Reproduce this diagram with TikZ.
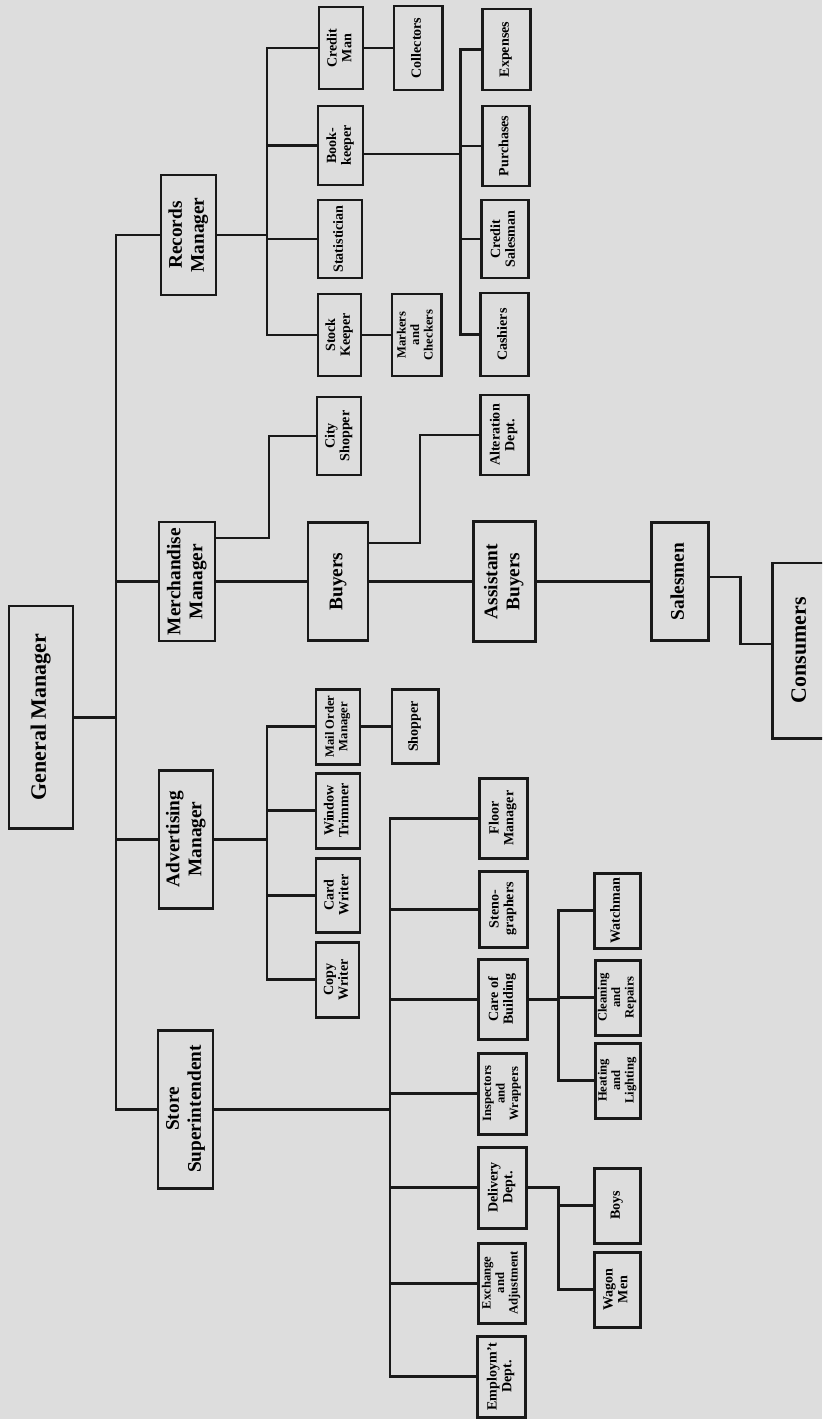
\documentclass[tikz,border=0pt]{standalone}
\usepackage{fontspec}
\setmainfont{Liberation Serif}
\usepackage{graphicx}
\definecolor{paper}{RGB}{221,221,221}
\definecolor{ink}{RGB}{25,25,25}
\newcommand{\vlab}[1]{\rotatebox{90}{\begin{tabular}{@{}c@{}}#1\end{tabular}}}
\tikzset{
  box/.style={draw=ink, fill=paper, line width=1.7pt, inner sep=0pt,
    font=\fontsize{8}{8.5}\selectfont\bfseries},
  tri/.style={box, font=\fontsize{7.2}{7.7}\selectfont\bfseries},
  big/.style={box, font=\fontsize{11}{12.5}\selectfont\bfseries},
  head/.style={box, font=\fontsize{12.5}{14}\selectfont\bfseries},
  sz/.style 2 args={minimum width=#1*0.02cm, minimum height=#2*0.02cm},
  link/.style={draw=ink, line width=1.7pt}
}
\begin{document}
\begin{tikzpicture}[x=0.02cm, y=-0.02cm]
\useasboundingbox (0,0) rectangle (822,1419);
\clip (0,0) rectangle (822,1419);
\fill[paper] (0,0) rectangle (822,1419);

\node[head, sz={64}{222}] (gm) at (41,717) {\vlab{General Manager}};
\node[big, sz={55}{120}] (rec) at (188.5,235) {\vlab{Records\\Manager}};
\node[big, sz={56}{119}] (mer) at (187,581.5) {\vlab{Merchandise\\Manager}};
\node[big, sz={54}{138}] (adv) at (186,839) {\vlab{Advertising\\Manager}};
\node[big, sz={55}{158}] (sup) at (185.5,1109) {\vlab{Store\\Superintendent}};

\node[box, sz={44}{82}] (credit) at (341,48) {\vlab{Credit\\Man}};
\node[box, sz={48}{84}] (collect) at (418,48) {\vlab{Collectors}};
\node[box, sz={45}{79}] (book) at (340.5,145.5) {\vlab{Book-\\keeper}};
\node[box, sz={44}{78}] (stat) at (340,239) {\vlab{Statistician}};
\node[box, sz={43}{82}] (stock) at (339.5,335) {\vlab{Stock\\Keeper}};
\node[tri, sz={49}{82}] (markers) at (416.5,335) {\vlab{Markers\\and\\Checkers}};
\node[box, sz={48}{81}] (expen) at (506,49.5) {\vlab{Expenses}};
\node[box, sz={47}{80}] (purch) at (505.5,146) {\vlab{Purchases}};
\node[box, sz={47}{78}] (csales) at (504.5,239) {\vlab{Credit\\Salesman}};
\node[box, sz={48}{83}] (cash) at (504,334.5) {\vlab{Cashiers}};

\node[box, sz={44}{78}] (city) at (339,436) {\vlab{City\\Shopper}};
\node[box, sz={48}{80}] (alter) at (504,435) {\vlab{Alteration\\Dept.}};
\node[big, sz={60}{118}] (buy) at (338,581.5) {\vlab{Buyers}};
\node[big, sz={62}{120}] (abuy) at (504,581.5) {\vlab{Assistant\\Buyers}};
\node[big, sz={57}{118}] (sales) at (679.5,581.5) {\vlab{Salesmen}};
\node[head, sz={58}{175}] (cons) at (801,650.5) {\vlab{Consumers}};

\node[tri, sz={44}{75}] (mail) at (338,726.5) {\vlab{Mail Order\\Manager}};
\node[box, sz={46}{74}] (shop) at (415,726.5) {\vlab{Shopper}};
\node[box, sz={44}{75}] (window) at (338,810.5) {\vlab{Window\\Trimmer}};
\node[box, sz={44}{74}] (card) at (338,895) {\vlab{Card\\Writer}};
\node[box, sz={43}{75}] (copy) at (337.5,979.5) {\vlab{Copy\\Writer}};

\node[box, sz={48}{80}] (floor) at (503,818) {\vlab{Floor\\Manager}};
\node[box, sz={48}{76}] (steno) at (503,909) {\vlab{Steno-\\graphers}};
\node[box, sz={49}{80}] (care) at (502.5,999) {\vlab{Care of\\Building}};
\node[tri, sz={48}{81}] (insp) at (502,1093.5) {\vlab{Inspectors\\and\\Wrappers}};
\node[box, sz={48}{81}] (deliv) at (502,1187.5) {\vlab{Delivery\\Dept.}};
\node[tri, sz={47}{80}] (exch) at (501.5,1283) {\vlab{Exchange\\and\\Adjustment}};
\node[box, sz={48}{81}] (empl) at (501,1376.5) {\vlab{Employm't\\Dept.}};
\node[box, sz={46}{75}] (watch) at (617,910.5) {\vlab{Watchman}};
\node[tri, sz={45}{75}] (clean) at (617.5,997.5) {\vlab{Cleaning\\and\\Repairs}};
\node[tri, sz={45}{75}] (heat) at (617.5,1080.5) {\vlab{Heating\\and\\Lighting}};
\node[box, sz={46}{75}] (boys) at (617,1205.5) {\vlab{Boys}};
\node[box, sz={46}{75}] (wagon) at (617,1289.5) {\vlab{Wagon\\Men}};

\coordinate (trunk) at (116,0);
\coordinate (rbus) at (267,0);
\coordinate (bbus) at (460,154);
\coordinate (mc) at (269,538);
\coordinate (ba) at (420,543);
\coordinate (sc) at (740,577);
\coordinate (sc2) at (740,644);
\coordinate (abus) at (267,0);
\coordinate (sbus) at (390,0);
\coordinate (cbus) at (558,0);

\draw[link] (gm.east) -- (gm.east -| trunk);
\draw[link] (rec.west) -| (trunk |- sup.west) -- (sup.west);
\draw[link] (mer.west) -- (mer.west -| trunk);
\draw[link] (adv.west) -- (adv.west -| trunk);

\draw[link] (rec.east) -- (rec.east -| rbus);
\draw[link] (credit.west) -| (rbus |- stock.west) -- (stock.west);
\draw[link] (book.west) -- (book.west -| rbus);
\draw[link] (stat.west) -- (stat.west -| rbus);
\draw[link] (credit.east) -- (collect.west);
\draw[link] (stock.east) -- (markers.west);
\draw[link] (book.east |- bbus) -- (bbus);
\draw[link] (expen.west) -| (bbus |- cash.west) -- (cash.west);
\draw[link] (purch.west) -- (purch.west -| bbus);
\draw[link] (csales.west) -- (csales.west -| bbus);

\draw[link] (mer.east |- mc) -- (mc) |- (city.west);
\draw[link] (mer.east) -- (buy.west);
\draw[link] (buy.east |- ba) -- (ba) |- (alter.west);
\draw[link] (buy.east) -- (abuy.west);
\draw[link] (abuy.east) -- (sales.west);
\draw[link] (sales.east |- sc) -- (sc) -- (sc2) -- (cons.west |- sc2);

\draw[link] (adv.east) -- (adv.east -| abus);
\draw[link] (mail.west) -| (abus |- copy.west) -- (copy.west);
\draw[link] (window.west) -- (window.west -| abus);
\draw[link] (card.west) -- (card.west -| abus);
\draw[link] (mail.east) -- (shop.west);

\draw[link] (sup.east) -- (sup.east -| sbus);
\draw[link] (floor.west) -| (sbus |- empl.west) -- (empl.west);
\draw[link] (steno.west) -- (steno.west -| sbus);
\draw[link] (care.west) -- (care.west -| sbus);
\draw[link] (insp.west) -- (insp.west -| sbus);
\draw[link] (deliv.west) -- (deliv.west -| sbus);
\draw[link] (exch.west) -- (exch.west -| sbus);

\draw[link] (care.east) -- (care.east -| cbus);
\draw[link] (watch.west) -| (cbus |- heat.west) -- (heat.west);
\draw[link] (clean.west) -- (clean.west -| cbus);
\draw[link] (deliv.east) -| (cbus |- wagon.west) -- (wagon.west);
\draw[link] (boys.west) -- (boys.west -| cbus);
\end{tikzpicture}
\end{document}
